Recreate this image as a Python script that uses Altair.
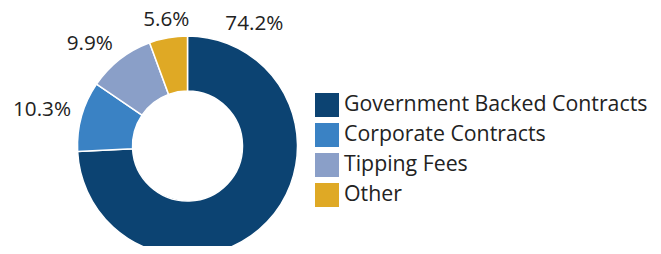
import altair as alt
import pandas as pd

categories = ["Government Backed Contracts", "Corporate Contracts", "Tipping Fees", "Other"]
shares = [74.2, 10.3, 9.9, 5.6]
labels = ["74.2%", "10.3%", "9.9%", "5.6%"]
colors = ["#0c4372", "#3a82c4", "#8a9fc8", "#dfa925"]

df = pd.DataFrame({"category": categories, "share": shares, "label": labels,
                   "order": list(range(len(categories)))})

# layout constants
CX, CY = 179.5, 138
OUTER, INNER = 110, 55
LABEL_R = 121            # anchor radius of the labels
BIG_LABEL_ANGLE = 0.318  # radians, label of the largest slice sits top-right
FONT = "Open Sans"

base = alt.Chart(df)

arc = base.mark_arc(radius=OUTER, radius2=INNER, stroke="white", strokeWidth=1.5).encode(
    theta=alt.Theta("share:Q", stack=True),
    order=alt.Order("order:Q"),
    color=alt.Color(
        "category:N",
        scale=alt.Scale(domain=categories, range=colors),
        legend=alt.Legend(
            title=None, orient="none", legendX=307, legendY=85,
            symbolType="square", symbolSize=576, symbolStrokeWidth=0,
            labelFont=FONT, labelFontSize=21.3, labelColor="#222222",
            rowPadding=6, labelOffset=5, labelLimit=0,
        ),
    ),
    x=alt.value(CX),
    y=alt.value(CY),
)

text = (
    base.transform_joinaggregate(total="sum(share)")
    .transform_window(cum="sum(share)", sort=[alt.SortField("order")], frame=[None, 0])
    .transform_calculate(mid="2*PI*(datum.cum - datum.share/2)/datum.total")
    .transform_calculate(ang=f"datum.order == 0 ? {BIG_LABEL_ANGLE} : datum.mid")
    .transform_calculate(
        s1="abs(sin(datum.ang)) < 0.3 ? 0 : (sin(datum.ang) > 0 ? 1 : -1)",
        s2="clamp(cos(datum.ang)/0.5, -1, 1)",
        hw="length(datum.label)*5.8",
    )
    .transform_calculate(
        px=f"{CX} + {LABEL_R}*sin(datum.ang) + datum.hw*datum.s1",
        py=f"{CY} - {LABEL_R}*cos(datum.ang) - 8*datum.s2 + 1",
    )
    .mark_text(font=FONT, fontSize=20.7, color="#222222", align="center", baseline="middle")
    .encode(
        x=alt.X("px:Q", scale=None),
        y=alt.Y("py:Q", scale=None),
        text="label:N",
    )
)

chart = (
    alt.layer(arc, text)
    .properties(width=645, height=238, autosize=alt.AutoSizeParams(type="none"), padding=0)
    .configure_view(strokeWidth=0)
)

chart.save("out.html", embed_options={"renderer": "svg", "actions": False})
